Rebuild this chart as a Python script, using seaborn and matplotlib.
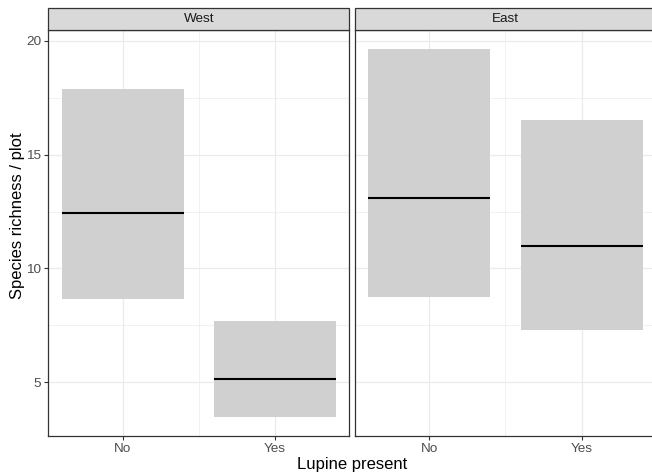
import matplotlib
matplotlib.use("Agg")
import matplotlib.pyplot as plt
import seaborn as sns
import pandas as pd
from matplotlib.patches import Rectangle

# ---- data ----
regions = ["West", "West", "East", "East"]
lupine = ["No", "Yes", "No", "Yes"]
mean_rich = [12.44, 5.15, 13.09, 10.97]
lower_ci = [8.64, 3.47, 8.74, 7.30]
upper_ci = [17.89, 7.67, 19.66, 16.54]
region_order = ["West", "East"]
lupine_order = ["No", "Yes"]
y_ticks = [5, 10, 15, 20]

df = pd.DataFrame(dict(region=regions, lupine=lupine, mean=mean_rich,
                       lower=lower_ci, upper=upper_ci))

sns.set_theme(style="white")
plt.rcParams['font.family'] = ['Liberation Sans', 'DejaVu Sans']

g = sns.FacetGrid(df, col="region", col_order=region_order, sharey=True,
                  height=4.75, aspect=0.69, despine=False)


def crossbar(data, **kw):
    ax = plt.gca()
    pos = [lupine_order.index(v) for v in data["lupine"]]
    ax.bar(pos, data["upper"] - data["lower"], bottom=data["lower"],
           width=0.8, color="#D0D0D0", linewidth=0, zorder=2)
    for p, m in zip(pos, data["mean"]):
        ax.hlines(m, p - 0.4, p + 0.4, color="black", linewidth=1.5, zorder=3)


g.map_dataframe(crossbar)
g.set_titles("")
fig = g.figure
fig.set_size_inches(6.52, 4.75)
fig.set_dpi(100)

W, H = 652, 475
panel_left = [48.3, 355.0]
panel_w = 301.0
panel_top, panel_bot = 30.0, 436.0
strip_h = 22.0

for i, ax in enumerate(g.axes.flat):
    ax.set_position([panel_left[i] / W, (H - panel_bot) / H,
                     panel_w / W, (panel_bot - panel_top) / H])
    ax.set_xlim(-0.487, 1.487)
    ax.set_ylim(2.63, 20.48)
    ax.set_xticks(range(len(lupine_order)))
    ax.set_xticklabels(lupine_order)
    ax.set_yticks(y_ticks)
    ax.set_xticks([0.5], minor=True)
    ax.set_yticks([7.5, 12.5, 17.5], minor=True)
    ax.grid(which="major", color="#EBEBEB", linewidth=0.9, zorder=0)
    ax.grid(which="minor", color="#EBEBEB", linewidth=0.5, zorder=0)
    ax.set_axisbelow(True)
    ax.set_facecolor("white")
    for s in ax.spines.values():
        s.set_color("#333333")
        s.set_linewidth(0.9)
    ax.tick_params(axis="both", which="major", length=3, width=0.8,
                   color="#333333", labelcolor="#4D4D4D", labelsize=9.7,
                   pad=2, bottom=True, left=(i == 0), labelleft=(i == 0))
    ax.tick_params(axis="both", which="minor", length=0)
    ax.set_xlabel("")
    ax.set_ylabel("")
    frac = strip_h / (panel_bot - panel_top)
    rect = Rectangle((0, 1.0), 1, frac, transform=ax.transAxes,
                     facecolor="#D9D9D9", edgecolor="#333333",
                     linewidth=0.9, clip_on=False, zorder=5)
    ax.add_patch(rect)
    ax.text(0.5, 1.0 + frac / 2, region_order[i], transform=ax.transAxes,
            ha="center", va="center", fontsize=9.7, color="#1A1A1A",
            zorder=6)

fig.text(352 / W, 1 - 465 / H, "Lupine present", ha="center", va="center",
         fontsize=12, color="black")
fig.text(17.5 / W, 1 - 216 / H, "Species richness / plot", ha="center",
         va="center", rotation=90, fontsize=12, color="black")

fig.savefig("out.png", dpi=100)
